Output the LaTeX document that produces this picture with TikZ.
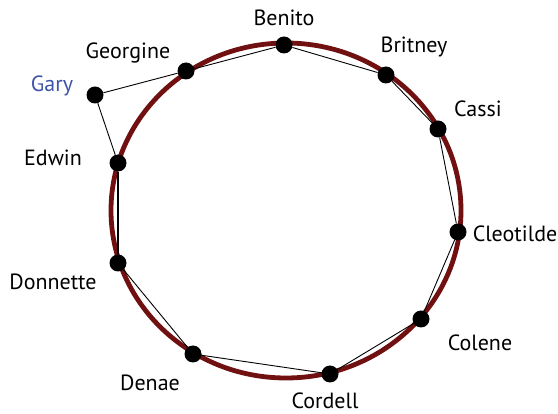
\documentclass[tikz,border=0pt]{standalone}
\usepackage{fontspec}
\setmainfont{PT Sans}
\usepackage{xcolor}
\usepackage{tikz}
\usetikzlibrary{positioning}

\definecolor{ringred}{RGB}{112,16,16}
\definecolor{garyblue}{RGB}{62,84,168}

\tikzset{
  person/.style={circle, fill=black, inner sep=0pt, minimum size=17pt},
  who/.style={font=\fontsize{22}{26}\selectfont, inner sep=0pt},
  link/.style={draw=black, line width=0.9pt}
}

\begin{document}
\begin{tikzpicture}[x=1pt, y=-1pt]
\useasboundingbox (0,0) rectangle (558,414);

% Ring
\draw[ringred, line width=4.8pt] (286,210.5) ellipse [x radius=175, y radius=167.5];

% People on the ring
\node[person] (benito)    at (284,45)  {};
\node[person] (britney)   at (386,75)  {};
\node[person] (cassi)     at (438,129) {};
\node[person] (cleotilde) at (458,232) {};
\node[person] (colene)    at (421,319) {};
\node[person] (cordell)   at (330,374) {};
\node[person] (denae)     at (193,354) {};
\node[person] (donnette)  at (118,263) {};
\node[person] (edwin)     at (118,163) {};
\node[person] (georgine)  at (186,71)  {};
% Newcomer
\node[person] (gary)      at (95,95)   {};

% Links
\draw[link] (gary) -- (georgine) -- (benito) -- (britney) -- (cassi)
  -- (cleotilde) -- (colene) -- (cordell) -- (denae) -- (donnette);
\draw[link] (edwin) -- (gary);
\draw[link, line width=2pt] (donnette) -- (edwin);

% Names
\node[who] (lbenito)    at (284,18)  {Benito};
\node[who] (lbritney)   at (414,47)  {Britney};
\node[who] (lcassi)     at (478,109) {Cassi};
\node[who] (lcleotilde) at (515,234) {Cleotilde};
\node[who] (lcolene)    at (480,343) {Colene};
\node[who] (lcordell)   at (325,401) {Cordell};
\node[who] (ldenae)     at (150,383) {Denae};
\node[who] (ldonnette)  at (53,282)  {Donnette};
\node[who] (ledwin)     at (53,158)  {Edwin};
\node[who] (lgeorgine)  at (128,53)  {Georgine};
\node[who, garyblue] (lgary) at (52,86) {Gary};

\end{tikzpicture}
\end{document}
